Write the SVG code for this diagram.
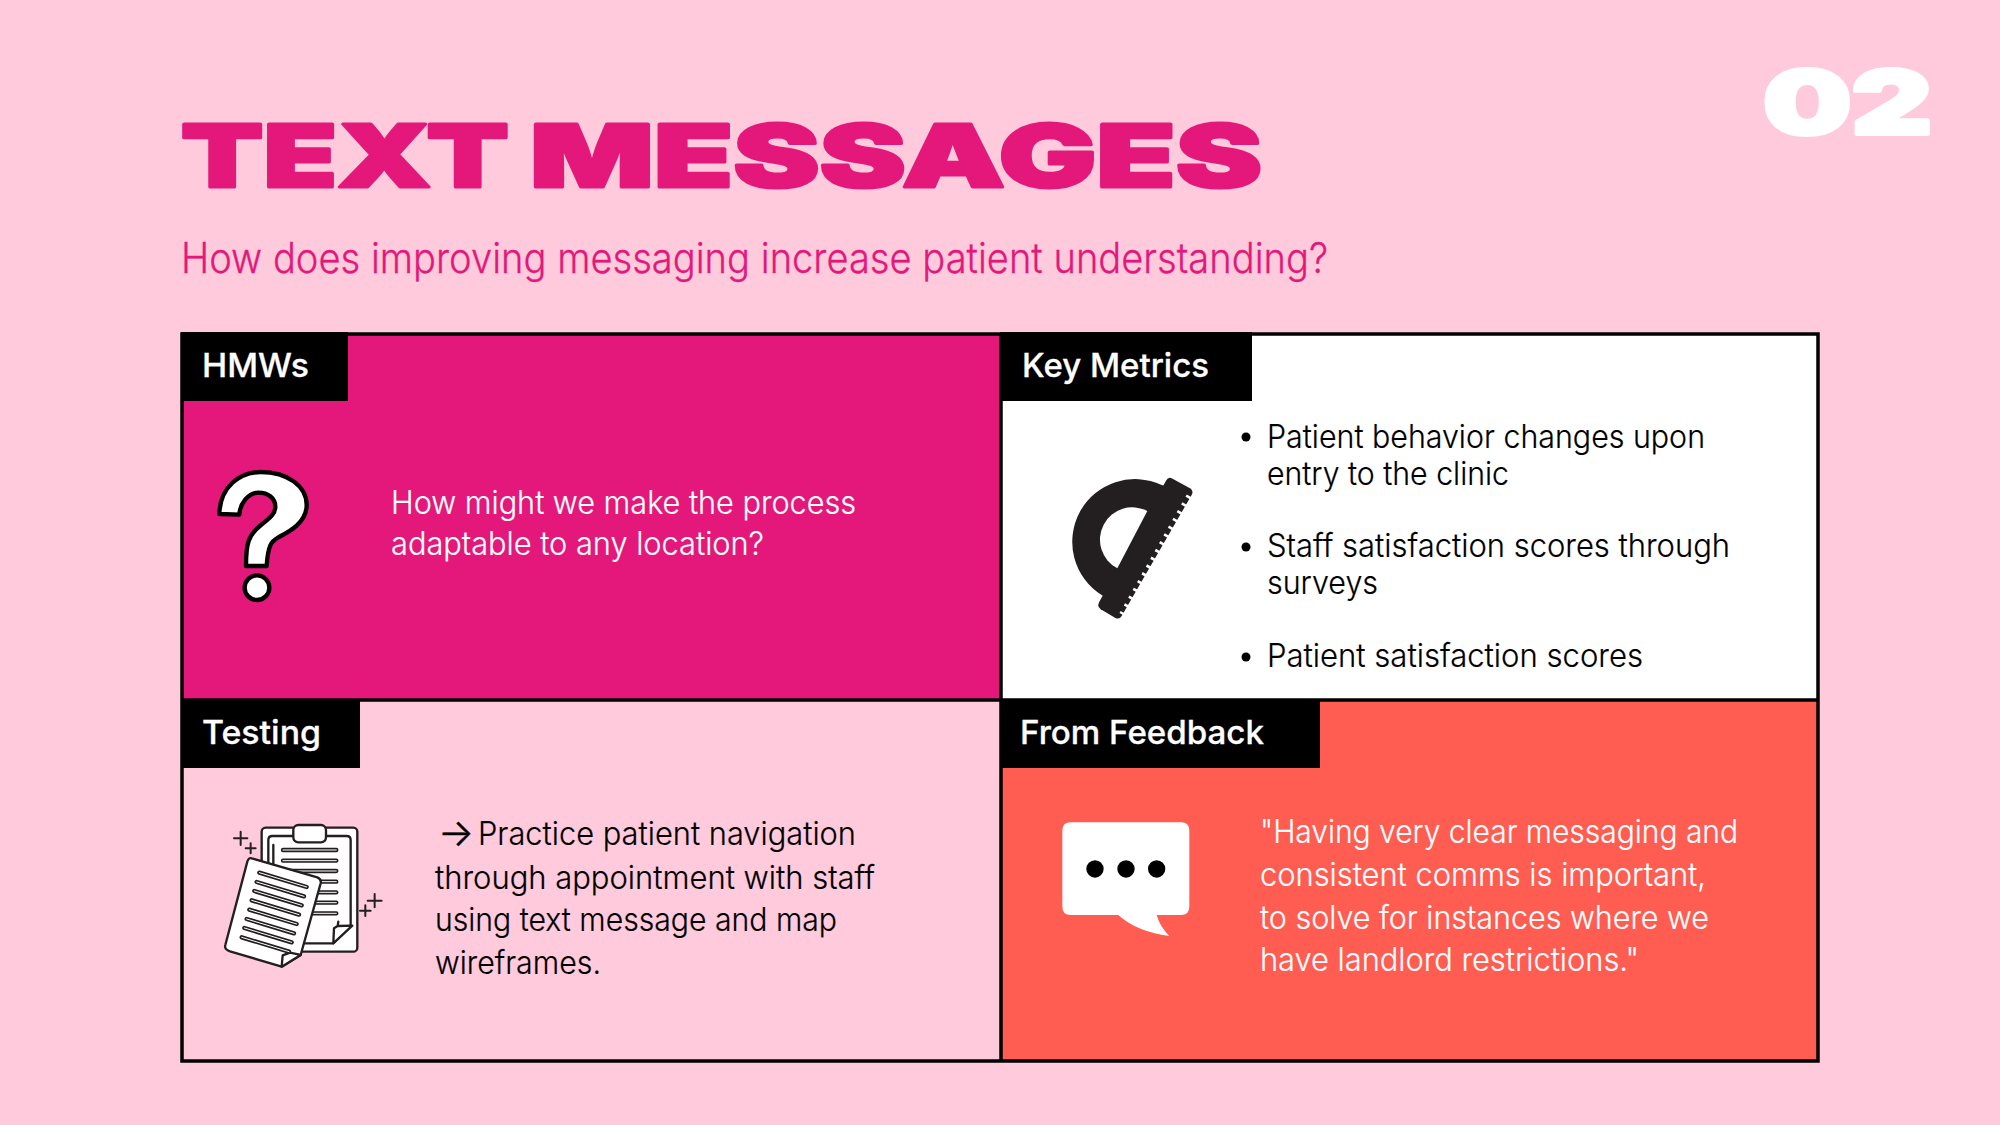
<svg xmlns="http://www.w3.org/2000/svg" width="2000" height="1125" viewBox="0 0 2000 1125">
<style>
text{font-family:"Inter","Liberation Sans",sans-serif}
.t{font-weight:900;stroke-linejoin:round}
.b{font-size:33px;font-weight:300;fill:#000;stroke:#000;stroke-width:.2}
.w{fill:#fff;stroke:#fff}
.l{font-size:33px;font-weight:500;fill:#fff;stroke:#fff;stroke-width:.3}
.tag{fill:#000}
.d{stroke:#231f20;stroke-linecap:round;stroke-linejoin:round}
.bar1{fill:none;stroke:#231f20;stroke-width:13;stroke-linecap:round}
.bar2{fill:none;stroke:#fff;stroke-width:3;stroke-linecap:round}
</style>
<defs>
<path id="backbars" d="M219 150H379M219 182H379M219 213H379M219 245H379M219 277H379M219 308H379M219 340H379"/>
<path id="frontbars" d="M148 218L290 261M140 246L282 289M133 273L275 316M125 301L267 344M118 329L260 372M110 357L252 400M103 384L245 427M95 412L237 455"/>
</defs>
<rect width="2000" height="1125" fill="#ffcadc"/>
<g id="header">
<text class="t" y="186.5" font-size="86" fill="#e3187a" stroke="#e3187a" stroke-width="3"><tspan x="181" textLength="328" lengthAdjust="spacingAndGlyphs">TEXT</tspan> <tspan x="530" textLength="732" lengthAdjust="spacingAndGlyphs">MESSAGES</tspan></text>
<text x="181" y="273" font-size="42" font-weight="300" fill="#e3187a" stroke="#e3187a" stroke-width=".3" textLength="1147" lengthAdjust="spacingAndGlyphs">How does improving messaging increase patient understanding?</text>
<text class="t" x="1763" y="134" font-size="88" fill="#fff" stroke="#fff" stroke-width="4" textLength="169" lengthAdjust="spacingAndGlyphs">02</text>
</g>
<g id="hmws">
<rect x="181" y="333" width="820" height="367" fill="#e3187a"/>
<rect class="tag" x="181" y="332" width="167" height="69"/>
<text class="l" x="202" y="377" textLength="107" lengthAdjust="spacingAndGlyphs">HMWs</text>
<g transform="translate(190 440) scale(.3333)">
<path d="M88 222C90 140 150 96 212 96C295 96 350 140 350 195C350 250 293 277 265 292C243 304 234 317 230 378L168 378C168 310 175 285 213 255C243 232 256 220 256 200C256 175 235 158 205 158C175 158 150 190 148 224Z" fill="#fff" stroke="#000" stroke-width="13" stroke-linejoin="round"/>
<circle cx="201" cy="443" r="37" fill="#fff" stroke="#000" stroke-width="13"/>
</g>
<text class="b w" x="391" y="514" textLength="465" lengthAdjust="spacingAndGlyphs">How might we make the process</text>
<text class="b w" x="391" y="555" textLength="373" lengthAdjust="spacingAndGlyphs">adaptable to any location?</text>
</g>
<g id="key-metrics">
<rect x="1001" y="333" width="818" height="367" fill="#fff"/>
<rect class="tag" x="1000" y="332" width="252" height="69"/>
<text class="l" x="1022" y="377" textLength="187" lengthAdjust="spacingAndGlyphs">Key Metrics</text>
<g transform="translate(1040 450) scale(.3333)">
<path d="M365 105A188.3 188.3 0 0 0 185 435L240 470L420 120Z" fill="#231f20"/>
<path d="M395 85L450 115Q462 122 455 135L245 498Q238 510 225 503L182 478Q170 470 178 455L378 92Q385 80 395 85Z" fill="#231f20"/>
<path d="M322 183A97 97 0 0 0 232 355Z" fill="#fff"/>
<line x1="447" y1="137" x2="245" y2="493" stroke="#fff" stroke-width="15" stroke-dasharray="8 18.8"/>
</g>
<circle cx="1246" cy="437" r="4.5"/><circle cx="1246" cy="547" r="4.5"/><circle cx="1246" cy="657" r="4.5"/>
<text class="b" x="1267" y="448" textLength="438" lengthAdjust="spacingAndGlyphs">Patient behavior changes upon</text>
<text class="b" x="1267" y="485" textLength="242" lengthAdjust="spacingAndGlyphs">entry to the clinic</text>
<text class="b" x="1267" y="557" textLength="463" lengthAdjust="spacingAndGlyphs">Staff satisfaction scores through</text>
<text class="b" x="1267" y="594" textLength="111" lengthAdjust="spacingAndGlyphs">surveys</text>
<text class="b" x="1267" y="667" textLength="376" lengthAdjust="spacingAndGlyphs">Patient satisfaction scores</text>
</g>
<g id="testing">
<rect class="tag" x="181" y="700" width="179" height="68"/>
<text class="l" x="202" y="744" textLength="119" lengthAdjust="spacingAndGlyphs">Testing</text>
<g transform="translate(210 800) scale(.3333)">
<g class="d" fill="none" stroke-width="7">
<rect x="155" y="83" width="287" height="372" rx="12" fill="#fff"/>
<path d="M175 120Q175 108 187 108H410Q422 108 422 120V375L370 430H187Q175 430 175 418Z" fill="#fff"/>
<rect x="250" y="75" width="98" height="52" rx="15" fill="#fff"/>
<path d="M190 135V195"/>
<path d="M385 365L383 378L372 385L370 430L427 377L383 378" fill="#fff"/>
</g>
<use href="#backbars" class="bar1"/><use href="#backbars" class="bar2"/>
<path class="d" d="M125 175L322 232Q335 238 332 250L272 465L215 500L60 454Q42 448 46 435L112 185Q116 172 125 175Z" fill="#fff" stroke-width="7"/>
<path class="d" d="M240 458L218 466L215 500L272 465L240 458" fill="#fff" stroke-width="7"/>
<use href="#frontbars" class="bar1"/><use href="#frontbars" class="bar2"/>
<g class="d" fill="none" stroke-width="6">
<path d="M72 115H112M92 95V135M107 145H137M122 130V160M473 302H515M494 282V322M450 332H482M466 316V348"/>
</g>
</g>
<text x="438" y="846" font-size="38" font-weight="300" stroke="#000" stroke-width=".5" textLength="36" lengthAdjust="spacingAndGlyphs">→</text>
<text class="b" x="478" y="845" textLength="378" lengthAdjust="spacingAndGlyphs">Practice patient navigation</text>
<text class="b" x="435" y="889" textLength="440" lengthAdjust="spacingAndGlyphs">through appointment with staff</text>
<text class="b" x="435" y="931" textLength="402" lengthAdjust="spacingAndGlyphs">using text message and map</text>
<text class="b" x="435" y="974" textLength="166" lengthAdjust="spacingAndGlyphs">wireframes.</text>
</g>
<g id="from-feedback">
<rect x="1001" y="700" width="818" height="361" fill="#ff5c52"/>
<rect class="tag" x="1000" y="699" width="320" height="69"/>
<text class="l" x="1020" y="744" textLength="244" lengthAdjust="spacingAndGlyphs">From Feedback</text>
<g transform="translate(1040 800) scale(.3333)">
<path d="M92 67H423Q448 67 448 92V320Q448 345 423 345H350Q360 380 388 408Q290 395 235 345H92Q67 345 67 320V92Q67 67 92 67Z" fill="#fff"/>
<circle cx="165" cy="207" r="26"/><circle cx="258" cy="207" r="26"/><circle cx="350" cy="207" r="26"/>
</g>
<text class="b w" x="1260" y="843" textLength="478" lengthAdjust="spacingAndGlyphs">"Having very clear messaging and</text>
<text class="b w" x="1260" y="886" textLength="446" lengthAdjust="spacingAndGlyphs">consistent comms is important,</text>
<text class="b w" x="1260" y="929" textLength="449" lengthAdjust="spacingAndGlyphs">to solve for instances where we</text>
<text class="b w" x="1260" y="971" textLength="379" lengthAdjust="spacingAndGlyphs">have landlord restrictions."</text>
</g>
<g id="connectors" fill="none" stroke="#000" stroke-width="3.5">
<rect x="182" y="334" width="1636" height="727"/>
<path d="M1001 334V1061M182 700H1818"/>
</g>
</svg>
